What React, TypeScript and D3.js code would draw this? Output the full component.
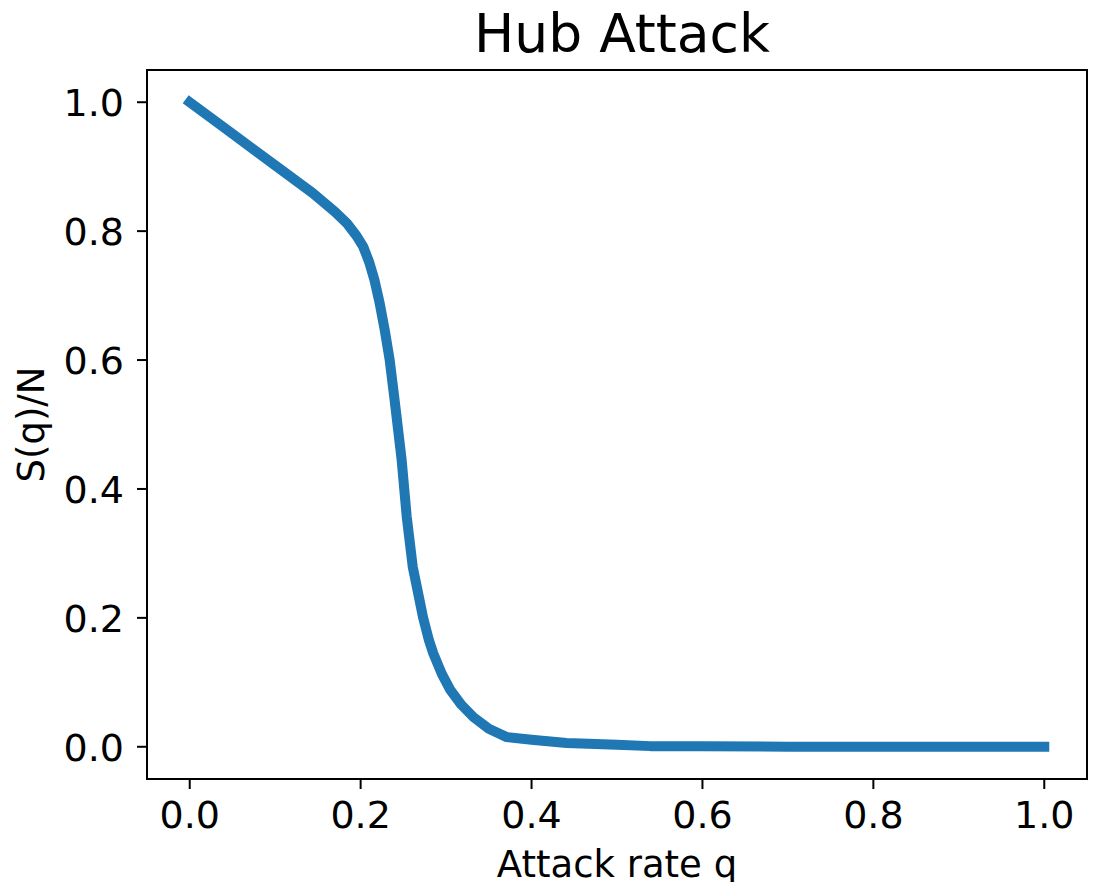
import React from "react";
import * as d3 from "d3";

const attackRate = [0, 0.05, 0.1, 0.144, 0.17, 0.184, 0.195, 0.203, 0.21, 0.216, 0.222, 0.228, 0.234, 0.24, 0.244, 0.248, 0.254, 0.261, 0.267, 0.273, 0.28, 0.285, 0.295, 0.305, 0.318, 0.332, 0.35, 0.371, 0.4, 0.441, 0.5, 0.539, 0.6, 0.7, 0.8, 0.9, 1.0];
const sizeRatio = [1.0, 0.951, 0.902, 0.859, 0.83, 0.812, 0.793, 0.776, 0.752, 0.725, 0.69, 0.648, 0.6, 0.535, 0.49, 0.445, 0.356, 0.279, 0.24, 0.201, 0.165, 0.145, 0.113, 0.088, 0.065, 0.046, 0.028, 0.015, 0.011, 0.006, 0.003, 0.001, 0.001, 0, 0, 0, 0];
const xTicks = [0, 0.2, 0.4, 0.6, 0.8, 1.0];
const yTicks = [0, 0.2, 0.4, 0.6, 0.8, 1.0];
const title = "Hub Attack";
const xLabel = "Attack rate q";
const yLabel = "S(q)/N";

const W = 1097;
const H = 882;
const left = 147;
const right = 1087;
const top = 70;
const bottom = 779;
const font = "DejaVu Sans, sans-serif";

export default function App() {
  const x = d3.scaleLinear().domain([-0.05, 1.05]).range([left, right]);
  const y = d3.scaleLinear().domain([-0.05, 1.05]).range([bottom, top]);
  const pts = attackRate.map((q, i) => [q, sizeRatio[i]] as [number, number]);
  const line = d3.line<[number, number]>().x((d) => x(d[0])).y((d) => y(d[1]));
  return (
    <svg width={W} height={H} style={{ position: "absolute", left: 0, top: 0, background: "#fff" }}>
      <rect x={0} y={0} width={W} height={H} fill="#fff" />
      <path d={line(pts) || ""} fill="none" stroke="#1f77b4" strokeWidth={10} strokeLinejoin="round" strokeLinecap="square" />
      <rect x={left} y={top} width={right - left} height={bottom - top} fill="none" stroke="#000" strokeWidth={2} />
      {xTicks.map((t) => (
        <g key={"x" + t}>
          <line x1={x(t)} x2={x(t)} y1={bottom} y2={bottom + 10} stroke="#000" strokeWidth={2} />
          <text x={x(t)} y={828} textAnchor="middle" fontFamily={font} fontSize={38} fill="#000">{t.toFixed(1)}</text>
        </g>
      ))}
      {yTicks.map((t) => (
        <g key={"y" + t}>
          <line x1={left - 10} x2={left} y1={y(t)} y2={y(t)} stroke="#000" strokeWidth={2} />
          <text x={124} y={y(t) + 14} textAnchor="end" fontFamily={font} fontSize={38} fill="#000">{t.toFixed(1)}</text>
        </g>
      ))}
      <text x={(left + right) / 2 + 5} y={52} textAnchor="middle" fontFamily={font} fontSize={53.5} fill="#000">{title}</text>
      <text x={(left + right) / 2} y={877} textAnchor="middle" fontFamily={font} fontSize={37} fill="#000">{xLabel}</text>
      <text transform={`translate(44, ${(top + bottom) / 2}) rotate(-90)`} textAnchor="middle" fontFamily={font} fontSize={37} fill="#000">{yLabel}</text>
    </svg>
  );
}
